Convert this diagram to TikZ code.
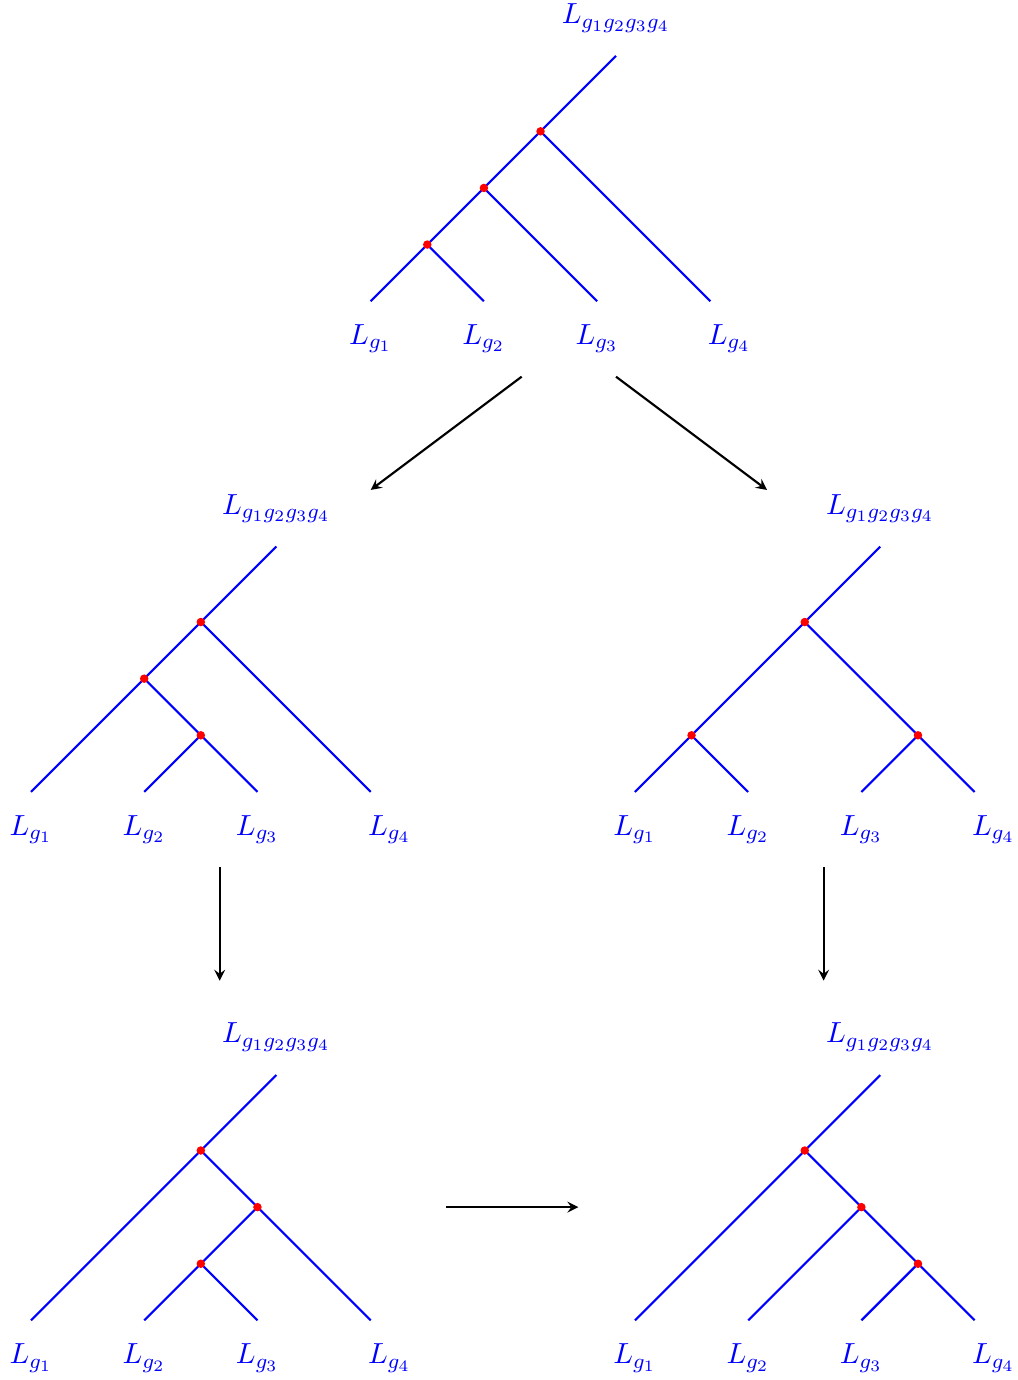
\documentclass[tikz,border=0pt]{standalone}
\usepackage{amsmath}
\usetikzlibrary{arrows,positioning}

\begin{document}
\begin{tikzpicture}[branch/.style={blue, thick}, label/.style={blue, font=\fontsize{10.95}{13.6}\selectfont}, move/.style={->, >=stealth, thick}]
	% Define dot radius
	\def \dotr {1.6pt}
	\useasboundingbox (-0.41,-7.79) rectangle (13.07,10.49);
	% Draw top tree
	\begin{scope}[shift={(4.5,6.5)}]
		\coordinate (a1) at (0,0);
		\coordinate (a2) at (1.5,0);
		\coordinate (a3) at (3,0);
		\coordinate (a4) at (4.5,0);
		\coordinate (a12) at (0.75,0.75);
		\coordinate (a123) at (1.5,1.5);
		\coordinate (a1234) at (2.25,2.25);
		\coordinate (aroot) at (3.25,3.25);
		\draw[branch] (a1) -- (a12) -- (a123) -- (a1234) -- (aroot);
		\draw[branch] (a12) -- (a2);
		\draw[branch] (a123) -- (a3);
		\draw[branch] (a1234) -- (a4);
		\fill[red] (a12) circle (\dotr);
		\fill[red] (a123) circle (\dotr);
		\fill[red] (a1234) circle (\dotr);
		\node[label] (la) at (3.25,3.75) {$L_{g_1g_2g_3g_4}$};
		\node[label] (la1) at (0,-0.5) {$L_{g_1}$};
		\node[label] (la2) at (1.5,-0.5) {$L_{g_2}$};
		\node[label] (la3) at (3,-0.5) {$L_{g_3}$};
		\node[label] (la4) at (4.75,-0.5) {$L_{g_4}$};
	\end{scope}
	% Draw middle left tree
	\begin{scope}[shift={(0,0)}]
		\coordinate (b1) at (0,0);
		\coordinate (b2) at (1.5,0);
		\coordinate (b3) at (3,0);
		\coordinate (b4) at (4.5,0);
		\coordinate (b23) at (2.25,0.75);
		\coordinate (b123) at (1.5,1.5);
		\coordinate (b1234) at (2.25,2.25);
		\coordinate (broot) at (3.25,3.25);
		\draw[branch] (b1) -- (b123) -- (b1234) -- (broot);
		\draw[branch] (b2) -- (b23) -- (b3);
		\draw[branch] (b23) -- (b123);
		\draw[branch] (b1234) -- (b4);
		\fill[red] (b23) circle (\dotr);
		\fill[red] (b123) circle (\dotr);
		\fill[red] (b1234) circle (\dotr);
		\node[label] (lb) at (3.25,3.75) {$L_{g_1g_2g_3g_4}$};
		\node[label] (lb1) at (0,-0.5) {$L_{g_1}$};
		\node[label] (lb2) at (1.5,-0.5) {$L_{g_2}$};
		\node[label] (lb3) at (3,-0.5) {$L_{g_3}$};
		\node[label] (lb4) at (4.75,-0.5) {$L_{g_4}$};
	\end{scope}
	% Draw middle right tree
	\begin{scope}[shift={(8,0)}]
		\coordinate (c1) at (0,0);
		\coordinate (c2) at (1.5,0);
		\coordinate (c3) at (3,0);
		\coordinate (c4) at (4.5,0);
		\coordinate (c12) at (0.75,0.75);
		\coordinate (c34) at (3.75,0.75);
		\coordinate (c1234) at (2.25,2.25);
		\coordinate (croot) at (3.25,3.25);
		\draw[branch] (c1) -- (c12) -- (c1234) -- (croot);
		\draw[branch] (c12) -- (c2);
		\draw[branch] (c1234) -- (c34) -- (c4);
		\draw[branch] (c34) -- (c3);
		\fill[red] (c12) circle (\dotr);
		\fill[red] (c34) circle (\dotr);
		\fill[red] (c1234) circle (\dotr);
		\node[label] (lc) at (3.25,3.75) {$L_{g_1g_2g_3g_4}$};
		\node[label] (lc1) at (0,-0.5) {$L_{g_1}$};
		\node[label] (lc2) at (1.5,-0.5) {$L_{g_2}$};
		\node[label] (lc3) at (3,-0.5) {$L_{g_3}$};
		\node[label] (lc4) at (4.75,-0.5) {$L_{g_4}$};
	\end{scope}
	% Draw bottom left tree
	\begin{scope}[shift={(0,-7)}]
		\coordinate (d1) at (0,0);
		\coordinate (d2) at (1.5,0);
		\coordinate (d3) at (3,0);
		\coordinate (d4) at (4.5,0);
		\coordinate (d23) at (2.25,0.75);
		\coordinate (d234) at (3,1.5);
		\coordinate (d1234) at (2.25,2.25);
		\coordinate (droot) at (3.25,3.25);
		\draw[branch] (d1) -- (d1234) -- (droot);
		\draw[branch] (d2) -- (d23) -- (d3);
		\draw[branch] (d23) -- (d234) -- (d4);
		\draw[branch] (d234) -- (d1234);
		\fill[red] (d23) circle (\dotr);
		\fill[red] (d234) circle (\dotr);
		\fill[red] (d1234) circle (\dotr);
		\node[label] (ld) at (3.25,3.75) {$L_{g_1g_2g_3g_4}$};
		\node[label] (ld1) at (0,-0.5) {$L_{g_1}$};
		\node[label] (ld2) at (1.5,-0.5) {$L_{g_2}$};
		\node[label] (ld3) at (3,-0.5) {$L_{g_3}$};
		\node[label] (ld4) at (4.75,-0.5) {$L_{g_4}$};
	\end{scope}
	% Draw bottom right tree
	\begin{scope}[shift={(8,-7)}]
		\coordinate (e1) at (0,0);
		\coordinate (e2) at (1.5,0);
		\coordinate (e3) at (3,0);
		\coordinate (e4) at (4.5,0);
		\coordinate (e34) at (3.75,0.75);
		\coordinate (e234) at (3,1.5);
		\coordinate (e1234) at (2.25,2.25);
		\coordinate (eroot) at (3.25,3.25);
		\draw[branch] (e1) -- (e1234) -- (eroot);
		\draw[branch] (e1234) -- (e234) -- (e34) -- (e4);
		\draw[branch] (e234) -- (e2);
		\draw[branch] (e34) -- (e3);
		\fill[red] (e34) circle (\dotr);
		\fill[red] (e234) circle (\dotr);
		\fill[red] (e1234) circle (\dotr);
		\node[label] (le) at (3.25,3.75) {$L_{g_1g_2g_3g_4}$};
		\node[label] (le1) at (0,-0.5) {$L_{g_1}$};
		\node[label] (le2) at (1.5,-0.5) {$L_{g_2}$};
		\node[label] (le3) at (3,-0.5) {$L_{g_3}$};
		\node[label] (le4) at (4.75,-0.5) {$L_{g_4}$};
	\end{scope}
	% Draw moves between trees
	\coordinate (ab0) at (6.5,5.5);
	\coordinate (ab1) at (4.5,4);
	\coordinate (ac0) at (7.75,5.5);
	\coordinate (ac1) at (9.75,4);
	\coordinate (bd0) at (2.5,-1);
	\coordinate (bd1) at (2.5,-2.5);
	\coordinate (ce0) at (10.5,-1);
	\coordinate (ce1) at (10.5,-2.5);
	\coordinate (de0) at (5.5,-5.5);
	\coordinate (de1) at (7.25,-5.5);
	\draw[move] (ab0) -- (ab1);
	\draw[move] (ac0) -- (ac1);
	\draw[move] (bd0) -- (bd1);
	\draw[move] (ce0) -- (ce1);
	\draw[move] (de0) -- (de1);
\end{tikzpicture}
\end{document}
